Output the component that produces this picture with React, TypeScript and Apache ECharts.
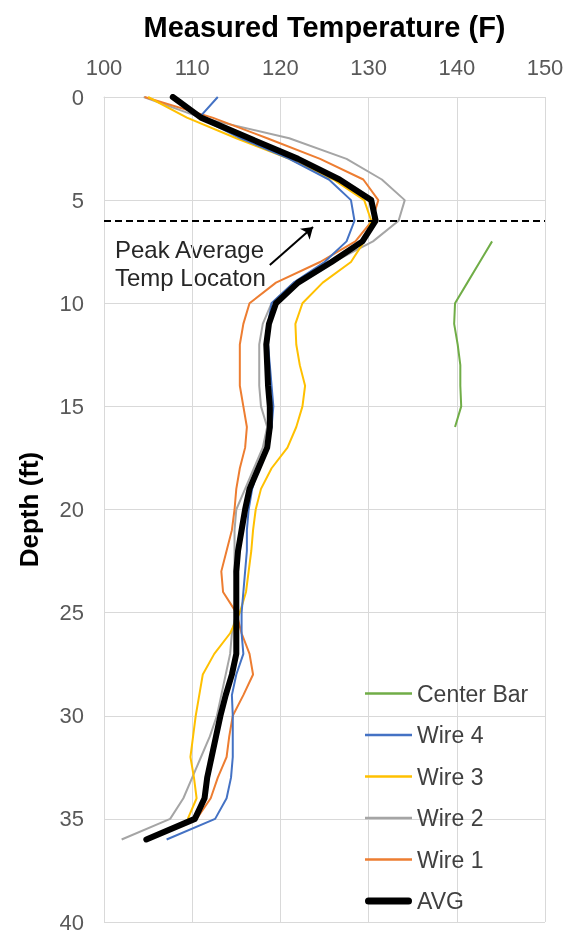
import React, { useEffect, useRef } from "react";
import * as echarts from "echarts";

const depths = [0, 1, 2, 3, 4, 5, 6, 7, 8, 9, 10, 11, 12, 13, 14, 15, 16, 17, 18, 19, 20, 21, 22, 23, 24, 25, 26, 27, 28, 29, 30, 31, 32, 33, 34, 35, 36];

const avg = [107.8, 111, 116.5, 122, 126.7, 130.3, 130.8, 129.3, 125.8, 122, 119.5, 118.7, 118.4, 118.5, 118.6, 118.8, 118.8, 118.5, 117.5, 116.5, 116, 115.6, 115.2, 115.0, 115.0, 115.0, 115.0, 115.0, 114.5, 113.8, 113.2, 112.7, 112.2, 111.7, 111.4, 110.3, 104.8];
const wire1 = [104.6, 112.3, 118.5, 124.5, 129.4, 131.1, 130.4, 128.5, 124.5, 119.5, 116.5, 115.8, 115.4, 115.4, 115.4, 115.8, 116.2, 116, 115.4, 115, 114.8, 114.5, 113.9, 113.3, 113.5, 115, 115.6, 116.5, 116.9, 115.8, 114.6, 114.2, 113.9, 112.9, 112.1, 110.5];
const wire2 = [104.5, 111, 121, 127.5, 131.5, 134.1, 133.4, 130.5, 126, 121.5, 119, 118, 117.6, 117.6, 117.6, 117.8, 118.5, 118, 117, 116, 115, 114.8, 114.8, 114.8, 115, 115, 114.5, 114.3, 113.8, 113.3, 112.8, 112, 111, 110, 109, 107.5, 102];
const wire3 = [105, 109.4, 115, 121, 126, 129.5, 130.3, 129.5, 128, 124.8, 122.5, 121.7, 121.8, 122.2, 122.8, 122.5, 121.8, 120.8, 119, 117.8, 117.2, 116.9, 116.7, 116.4, 116.1, 115.4, 114.3, 112.5, 111.2, 110.8, 110.4, 110.1, 109.8, 110.2, 110.5, 109.5];
const wire4 = [112.9, 110.8, 115.5, 121, 125.5, 128, 128.4, 127.5, 125, 121.5, 119, 118.6, 118.6, 118.8, 119, 119.2, 119, 118.5, 117.5, 116.8, 116.4, 116.2, 116.2, 116, 115.8, 115.6, 115.6, 115.8, 115, 114.5, 114.6, 114.6, 114.6, 114.4, 113.9, 112.6, 107.1];
const centerBarDepths = [7, 8, 9, 10, 11, 12, 13, 14, 15, 16];
const centerBar = [144, 142.6, 141.2, 139.8, 139.7, 140.1, 140.4, 140.4, 140.5, 139.8];

const legendOrder = ["Center Bar", "Wire 4", "Wire 3", "Wire 2", "Wire 1", "AVG"];
const peakDepth = 6;

const FONT = "'Liberation Sans', Arial, sans-serif";
const THIN_ICON = "path://M0,0h47v2.5h-47z";
const THICK_ICON = "path://M3.5,0h40a3.5,3.5 0 0 1 0,7h-40a3.5,3.5 0 0 1 0,-7z";

function pairs(temps: number[], ds: number[]) {
  return temps.map((t, i) => [t, ds[i]]);
}

export default function App() {
  const ref = useRef<HTMLDivElement>(null);
  useEffect(() => {
    if (!ref.current) return;
    const chart = echarts.init(ref.current, undefined, { renderer: "svg" });
    const thin = (name: string, color: string, data: number[][]) => ({
      name,
      type: "line",
      data,
      symbol: "none",
      showSymbol: false,
      lineStyle: { color, width: 2 },
      itemStyle: { color },
      z: 2,
    });
    chart.setOption({
      animation: false,
      textStyle: { fontFamily: FONT },
      grid: { left: 104, right: 25, top: 97, bottom: 14 },
      xAxis: {
        type: "value",
        position: "top",
        min: 100,
        max: 150,
        interval: 10,
        name: "Measured Temperature (F)",
        nameLocation: "middle",
        nameGap: 56,
        nameTextStyle: { fontSize: 29, fontWeight: "bold", color: "#000", fontFamily: FONT },
        axisLine: { show: true, lineStyle: { color: "#D9D9D9" } },
        axisTick: { show: false },
        axisLabel: { fontSize: 22, color: "#595959", margin: 19, fontFamily: FONT },
        splitLine: { show: true, lineStyle: { color: "#D9D9D9", width: 1 } },
      },
      yAxis: {
        type: "value",
        inverse: true,
        min: 0,
        max: 40,
        interval: 5,
        name: "Depth (ft)",
        nameLocation: "middle",
        nameGap: 62,
        nameRotate: 90,
        nameTextStyle: { fontSize: 26, fontWeight: "bold", color: "#000", fontFamily: FONT },
        axisLine: { show: true, lineStyle: { color: "#D9D9D9" } },
        axisTick: { show: false },
        axisLabel: { fontSize: 22, color: "#595959", margin: 20, fontFamily: FONT },
        splitLine: { show: true, lineStyle: { color: "#D9D9D9", width: 1 } },
      },
      legend: {
        orient: "vertical",
        left: 365,
        top: 682,
        padding: 0,
        itemWidth: 47,
        itemHeight: 14,
        itemGap: 18.5,
        itemStyle: { borderWidth: 0 },
        data: legendOrder.map((n) => ({ name: n, icon: n === "AVG" ? THICK_ICON : THIN_ICON })),
        textStyle: { fontSize: 23, color: "#404040", fontFamily: FONT },
      },
      series: [
        thin("Wire 2", "#A5A5A5", pairs(wire2, depths)),
        thin("Wire 1", "#ED7D31", pairs(wire1, depths)),
        thin("Wire 3", "#FFC000", pairs(wire3, depths)),
        thin("Wire 4", "#4472C4", pairs(wire4, depths)),
        thin("Center Bar", "#70AD47", pairs(centerBar, centerBarDepths)),
        {
          name: "AVG",
          type: "line",
          data: pairs(avg, depths),
          symbol: "none",
          showSymbol: false,
          lineStyle: { color: "#000", width: 6, cap: "round", join: "round" },
          itemStyle: { color: "#000" },
          z: 5,
          markLine: {
            silent: true,
            animation: false,
            symbol: ["none", "none"],
            label: { show: false },
            data: [
              {
                yAxis: peakDepth,
                lineStyle: { color: "#000", type: [7, 4], width: 2 },
              },
              [
                { coord: [118.8, 8.15], symbol: "none", lineStyle: { color: "#000", type: "solid", width: 2 } },
                { coord: [123.7, 6.3], symbol: "arrow", symbolSize: 11 },
              ],
            ],
          },
        },
      ],
      graphic: [
        {
          type: "text",
          left: 115,
          top: 235,
          style: {
            text: "Peak Average\nTemp Locaton",
            fontSize: 24,
            lineHeight: 28,
            fill: "#262626",
            fontFamily: FONT,
          },
        },
      ],
    });
    return () => chart.dispose();
  }, []);
  return <div ref={ref} style={{ position: "fixed", left: 0, top: 0, width: 570, height: 936 }} />;
}
